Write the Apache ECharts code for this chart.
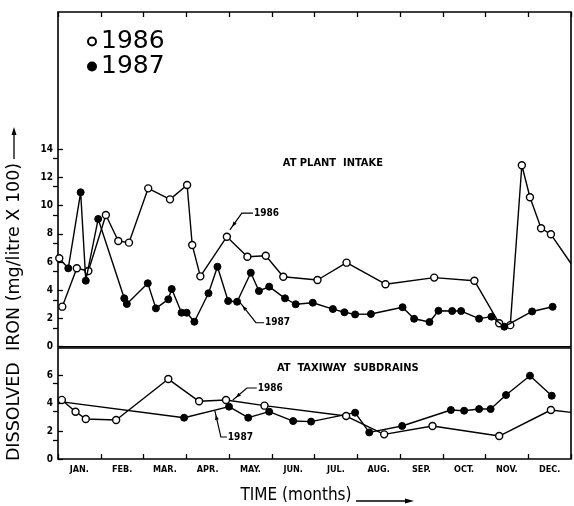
<!DOCTYPE html>
<html><head><meta charset="utf-8">
<script src="https://cdn.jsdelivr.net/npm/echarts@6/dist/echarts.min.js"></script>
<style>html,body{margin:0;padding:0;background:#fff}#c{width:574px;height:506px}</style>
</head><body><div id="c"></div><script>
// ---- data (x in months from Jan 1, y in mg/litre x 100) ----
const months = ['JAN.','FEB.','MAR.','APR.','MAY.','JUN.','JUL.','AUG.','SEP.','OCT.','NOV.','DEC.'];
const intake1986_x = [0.10,0.44,0.71,1.12,1.41,1.66,2.11,2.62,3.02,3.14,3.33,3.95,4.43,4.86,5.27,6.07,6.75,7.66,8.80,9.74,10.32,10.58,10.85,11.04,11.30,11.53,12.0];
const intake1986_y = [2.84,5.56,5.37,9.34,7.50,7.38,11.23,10.45,11.47,7.21,4.99,7.80,6.38,6.45,4.96,4.73,5.96,4.43,4.90,4.68,1.66,1.53,12.87,10.60,8.40,7.97,5.9];
const intake1987_x = [0.03,0.24,0.53,0.65,0.94,1.55,1.61,2.10,2.29,2.58,2.66,2.89,3.01,3.19,3.52,3.73,3.98,4.19,4.51,4.70,4.94,5.31,5.56,5.96,6.43,6.70,6.95,7.32,8.06,8.33,8.69,8.90,9.22,9.43,9.85,10.14,10.44,11.09,11.57];
const intake1987_y = [6.27,5.56,10.95,4.68,9.06,3.43,3.03,4.50,2.72,3.36,4.09,2.41,2.41,1.77,3.79,5.67,3.24,3.19,5.25,3.95,4.26,3.43,3.01,3.12,2.67,2.44,2.29,2.32,2.80,1.98,1.75,2.55,2.53,2.53,1.99,2.13,1.42,2.50,2.83];
const taxi1986_x = [0.09,0.41,0.65,1.36,2.58,3.30,3.93,4.83,6.74,7.63,8.76,10.32,11.53,12.0];
const taxi1986_y = [4.22,3.38,2.86,2.79,5.71,4.12,4.21,3.81,3.07,1.76,2.36,1.64,3.50,3.33];
const taxi1987_x = [0.05,2.95,4.00,4.45,4.94,5.50,5.92,6.95,7.28,8.05,9.19,9.50,9.85,10.12,10.48,11.04,11.55];
const taxi1987_y = [4.10,2.95,3.74,2.95,3.38,2.71,2.67,3.31,1.90,2.36,3.50,3.45,3.57,3.57,4.57,5.95,4.52];
const intakeTickMax = 14, taxiTickMax = 6;

const chart = echarts.init(document.getElementById('c'));
const L = 58, R = 3;
const topY0 = 346.7, pxU = 14.1;      // top panel scale
const botY0 = 459, pxB = 14.0;        // bottom panel scale
const topTop = 12, botTop = 348;
const FONT = '"DejaVu Sans Condensed", "DejaVu Sans", sans-serif';

function zip(xs, ys, noEndSymbol) {
  return xs.map((x, i) => {
    const o = { value: [x, ys[i]] };
    if (noEndSymbol && i === xs.length - 1) o.symbol = 'none';
    return o;
  });
}
const openStyle = { color: '#fff', borderColor: '#000', borderWidth: 1.4 };
const fillStyle = { color: '#000', borderColor: '#000', borderWidth: 1 };
const lineStyle = { color: '#000', width: 1.4 };

const i87 = zip(intake1987_x, intake1987_y);
i87[0].itemStyle = openStyle;
const t87 = zip(taxi1987_x, taxi1987_y);
t87[0].symbol = 'none';

const hiddenX = (g) => ({ type: 'value', gridIndex: g, min: 0, max: 12, show: false });
const tickCommon = { show: true, inside: true, length: 5, lineStyle: { color: '#000', width: 1.3 } };

chart.setOption({
  animation: false,
  backgroundColor: '#fff',
  legend: {
    data: ['1986', '1987'], orient: 'vertical', left: 82, top: 24, itemGap: 0,
    icon: 'circle', itemWidth: 8, itemHeight: 8,
    textStyle: { fontSize: 25, color: '#000', fontFamily: '"DejaVu Sans", sans-serif' }
  },
  grid: [
    { left: L, right: R, top: topTop, height: topY0 - topTop, show: true, borderColor: '#000', borderWidth: 1.6 },
    { left: L, right: R, top: botTop, height: botY0 - botTop, show: true, borderColor: '#000', borderWidth: 1.6 },
    { left: L, right: R, top: topY0 - intakeTickMax * pxU, height: intakeTickMax * pxU },
    { left: L, right: R, top: botY0 - taxiTickMax * pxB, height: taxiTickMax * pxB },
    { left: L, right: R, top: 158.3, height: 170 },
    { left: L, right: R, top: 383.3, height: 56.7 }
  ],
  xAxis: [
    hiddenX(0),
    { type: 'category', gridIndex: 0, position: 'top', data: months, boundaryGap: true,
      axisLine: { show: false }, axisTick: tickCommon, axisLabel: { show: false } },
    hiddenX(1),
    { type: 'category', gridIndex: 1, position: 'bottom', data: months, boundaryGap: true,
      axisLine: { show: false }, axisTick: tickCommon,
      axisLabel: { show: true, margin: 6, color: '#000', fontSize: 9, fontWeight: 'bold', fontFamily: FONT } },
    hiddenX(2), hiddenX(3), hiddenX(4), hiddenX(5)
  ],
  yAxis: [
    { type: 'value', gridIndex: 0, min: 0, max: (topY0 - topTop) / pxU, show: false },
    { type: 'value', gridIndex: 1, min: 0, max: (botY0 - botTop) / pxB, show: false },
    { type: 'value', gridIndex: 2, min: 0, max: intakeTickMax, interval: 2, axisLine: { show: false },
      axisTick: tickCommon, splitLine: { show: false },
      axisLabel: { margin: 5, color: '#000', fontSize: 10, fontWeight: 'bold', fontFamily: FONT } },
    { type: 'value', gridIndex: 3, min: 0, max: taxiTickMax, interval: 2, axisLine: { show: false },
      axisTick: tickCommon, splitLine: { show: false },
      axisLabel: { margin: 5, color: '#000', fontSize: 10, fontWeight: 'bold', fontFamily: FONT } },
    { type: 'value', gridIndex: 4, position: 'right', min: 0, max: 12, interval: 2, axisLine: { show: false },
      axisTick: tickCommon, splitLine: { show: false }, axisLabel: { show: false } },
    { type: 'value', gridIndex: 5, position: 'right', min: 0, max: 4, interval: 2, axisLine: { show: false },
      axisTick: tickCommon, splitLine: { show: false }, axisLabel: { show: false } }
  ],
  series: [
    { name: '1986', type: 'line', xAxisIndex: 0, yAxisIndex: 0, data: zip(intake1986_x, intake1986_y, true),
      symbol: 'circle', symbolSize: 7, itemStyle: openStyle, lineStyle, z: 3 },
    { name: '1987', type: 'line', xAxisIndex: 0, yAxisIndex: 0, data: i87,
      symbol: 'circle', symbolSize: 7, itemStyle: fillStyle, lineStyle, z: 4 },
    { name: '1986', type: 'line', xAxisIndex: 2, yAxisIndex: 1, data: zip(taxi1986_x, taxi1986_y, true),
      symbol: 'circle', symbolSize: 7, itemStyle: openStyle, lineStyle, z: 4 },
    { name: '1987', type: 'line', xAxisIndex: 2, yAxisIndex: 1, data: t87,
      symbol: 'circle', symbolSize: 7, itemStyle: fillStyle, lineStyle, z: 3 }
  ]
});

// ---- annotations (positions in data coordinates of each panel) ----
const panelTexts = [
  { grid: 0, at: [6.43, 13.03], text: 'AT PLANT  INTAKE' },
  { grid: 1, at: [6.78, 6.5], text: 'AT  TAXIWAY  SUBDRAINS' }
];
const pointers = [
  { grid: 0, label: '1986', pts: [[4.56, 9.48], [4.30, 9.48], [4.02, 8.28]] },
  { grid: 0, label: '1987', pts: [[4.82, 1.70], [4.63, 1.70], [4.26, 3.12]] },
  { grid: 1, label: '1986', pts: [[4.65, 5.07], [4.42, 5.07], [4.09, 4.21]] },
  { grid: 1, label: '1987', pts: [[3.95, 1.57], [3.81, 1.57], [3.67, 3.43]] }
];
const px = (g, p) => chart.convertToPixel({ gridIndex: g }, p);
const gfx = [];
panelTexts.forEach(t => {
  const p = px(t.grid, t.at);
  gfx.push({ type: 'text', x: p[0], y: p[1], style: { text: t.text, fill: '#000',
    font: 'bold 11px ' + FONT, textAlign: 'center', textVerticalAlign: 'middle' } });
});
pointers.forEach(a => {
  const pts = a.pts.map(p => px(a.grid, p));
  gfx.push({ type: 'polyline', shape: { points: pts }, style: { stroke: '#000', lineWidth: 1.2, fill: null } });
  const [x1, y1] = pts[pts.length - 2], [x2, y2] = pts[pts.length - 1];
  const ang = Math.atan2(y2 - y1, x2 - x1);
  const tx = x2 - Math.cos(ang) * 4, ty = y2 - Math.sin(ang) * 4;
  const s = 5, w = 2;
  gfx.push({ type: 'polygon', shape: { points: [
    [tx, ty],
    [tx - Math.cos(ang) * s - Math.sin(ang) * w, ty - Math.sin(ang) * s + Math.cos(ang) * w],
    [tx - Math.cos(ang) * s + Math.sin(ang) * w, ty - Math.sin(ang) * s - Math.cos(ang) * w]
  ] }, style: { fill: '#000' } });
  const p0 = pts[0];
  gfx.push({ type: 'text', x: p0[0] + 1, y: p0[1], style: { text: a.label, fill: '#000',
    font: 'bold 10px ' + FONT, textAlign: 'left', textVerticalAlign: 'middle' } });
});
// axis titles
gfx.push({ type: 'text', x: 14, y: 312, rotation: Math.PI / 2, style: { text: 'DISSOLVED  IRON (mg/litre X 100)',
  fill: '#000', font: '17.5px "DejaVu Sans", sans-serif', textAlign: 'center', textVerticalAlign: 'middle' } });
gfx.push({ type: 'line', shape: { x1: 14, y1: 159, x2: 14, y2: 131 }, style: { stroke: '#000', lineWidth: 1.3 } });
gfx.push({ type: 'polygon', shape: { points: [[14, 127], [11.5, 135], [16.5, 135]] }, style: { fill: '#000' } });
gfx.push({ type: 'text', x: 296, y: 496, style: { text: 'TIME (months)', fill: '#000',
  font: '17px ' + FONT, textAlign: 'center', textVerticalAlign: 'middle' } });
gfx.push({ type: 'line', shape: { x1: 356, y1: 501, x2: 410, y2: 501 }, style: { stroke: '#000', lineWidth: 1.3 } });
gfx.push({ type: 'polygon', shape: { points: [[414, 501], [405, 498.5], [405, 503.5]] }, style: { fill: '#000' } });
chart.setOption({ graphic: { elements: gfx } });
</script></body></html>
